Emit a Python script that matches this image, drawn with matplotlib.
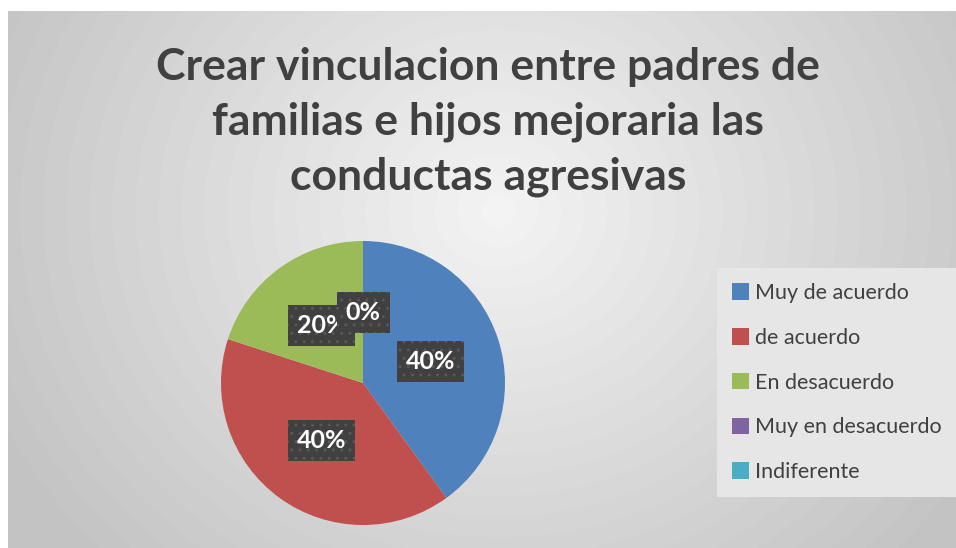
import matplotlib.pyplot as plt
import numpy as np

categories = ["Muy de acuerdo", "de acuerdo", "En desacuerdo",
              "Muy en desacuerdo", "Indiferente"]
values = [40, 40, 20, 0, 0]
colors = ["#4F81BD", "#C0504D", "#9BBB59", "#8064A2", "#4BACC6"]
title = "Crear vinculacion entre padres de\nfamilias e hijos mejoraria las\nconductas agresivas"

W, H = 956, 548
fig = plt.figure(figsize=(W / 100, H / 100), dpi=100)

# background gradient of the chart area
bg = fig.add_axes([8 / W, 0, 1 - 8 / W, 1 - 11 / H])
yy, xx = np.mgrid[0:H - 11, 0:W - 8]
d = np.sqrt(((xx - 490) / 1.0) ** 2 + ((yy - 200) / 0.9) ** 2)
shade = 0.955 - 0.19 * np.clip(d / 560, 0, 1)
bg.imshow(shade, cmap="gray", vmin=0, vmax=1, aspect="auto",
          extent=[0, 1, 0, 1], origin="upper")
bg.axis("off")

fig.text(488 / W, 1 - 122 / H, title, ha="center", va="center",
         fontsize=32, fontweight="bold", color="#404040",
         family="Lato", linespacing=1.45)

# pie
cx, cy, r = 363, 383, 142
ax = fig.add_axes([(cx - r) / W, (H - cy - r) / H, 2 * r / W, 2 * r / H])
wedges, texts, autotexts = ax.pie(
    values, colors=colors, startangle=90, counterclock=False,
    autopct="%1.0f%%", pctdistance=0.5, radius=1,
    wedgeprops=dict(linewidth=0)
)
ax.set_xlim(-1, 1)
ax.set_ylim(-1, 1)
ax.set_aspect("equal")

for t in autotexts:
    t.set_color("white")
    t.set_fontweight("bold")
    t.set_fontsize(18)
    t.set_family("Lato")
    t.set_bbox(dict(boxstyle="square,pad=0.36", facecolor="#404040",
                    edgecolor="#585858", hatch="..", linewidth=0))

leg = fig.legend(wedges, categories, loc="upper left",
                 bbox_to_anchor=(717 / W, 1 - 268 / H),
                 bbox_transform=fig.transFigure, borderaxespad=0,
                 frameon=True, fancybox=False, framealpha=1,
                 facecolor="#e6e6e6", edgecolor="none",
                 prop=dict(family="Lato", size=15.5), labelcolor="#404040",
                 handlelength=0.8, handleheight=0.8, handletextpad=0.25,
                 labelspacing=1.15, borderpad=0.7)

fig.savefig("out.png", dpi=100)
